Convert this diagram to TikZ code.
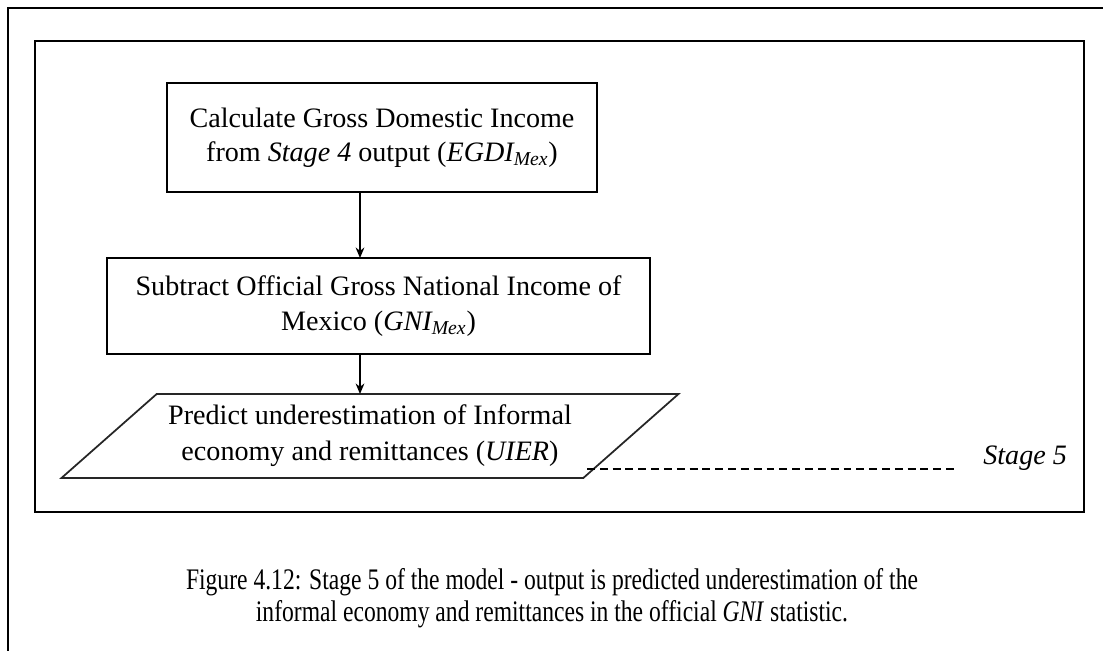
\documentclass[tikz,border=0pt]{standalone}
\usepackage{fontspec}
\setmainfont{Liberation Serif}
\usepackage{graphicx}
\usetikzlibrary{shapes.geometric,arrows.meta,positioning}

\begin{document}
\begin{tikzpicture}[x=0.02cm, y=-0.02cm,
    frame/.style={line width=1.1pt},
    stagebox/.style={rectangle, draw, line width=0.8pt, align=center, inner sep=0pt, outer sep=0pt,
        font=\fontsize{16}{19.5}\selectfont},
    outbox/.style={trapezium, trapezium left angle=34.5, trapezium right angle=145.5,
        trapezium stretches=true, draw=black!85, line width=1pt, align=center, inner sep=0pt, outer sep=0pt,
        font=\fontsize{16}{20.5}\selectfont},
    arrow/.style={-{Stealth[length=6pt,width=5pt]}, line width=0.8pt},
    stageline/.style={line width=0.6pt, dash pattern=on 4.5pt off 2.8pt}]

    \useasboundingbox (0,0) rectangle (1103,651);

    % frames
    \draw[frame] (1103,8) -- (8,8) -- (8,651);
    \draw[frame] (35,41) rectangle (1084,512);

    \node[stagebox, minimum width=8.6cm, minimum height=2.18cm] (gdi) at (382,137.5)
        {Calculate Gross Domestic Income\\from \textit{Stage 4} output (\textit{EGDI\textsubscript{Mex}})};
    \node[stagebox, minimum width=10.86cm, minimum height=1.92cm] (gni) at (378.5,306)
        {Subtract Official Gross National Income of\\Mexico (\textit{GNI\textsubscript{Mex}})};
    \node[outbox, minimum width=12.36cm, minimum height=1.68cm] (uier) at (370,436)
        {Predict underestimation of Informal\\economy and remittances (\textit{UIER})};

    \coordinate (ax) at (360,0);
    \draw[arrow] (gdi.south -| ax) -- (gni.north -| ax);
    \draw[arrow] (gni.south -| ax) -- (uier.north -| ax);

    % stage label
    \node[anchor=base west, inner sep=0pt, font=\fontsize{16}{19}\selectfont\itshape] (stage) at (983,465) {Stage 5};
    \coordinate (dashL) at (587,469);
    \draw[stageline, shorten >=14pt] (dashL) -- (stage.west |- dashL);

    % caption
    \node[align=center, inner sep=0pt, font=\fontsize{17}{18.5}\selectfont] (cap) at (552,598)
        {\scalebox{0.79}[1]{Figure 4.12: Stage 5 of the model - output is predicted underestimation of the}\\
         \scalebox{0.79}[1]{informal economy and remittances in the official \textit{GNI} statistic.}};
\end{tikzpicture}
\end{document}
